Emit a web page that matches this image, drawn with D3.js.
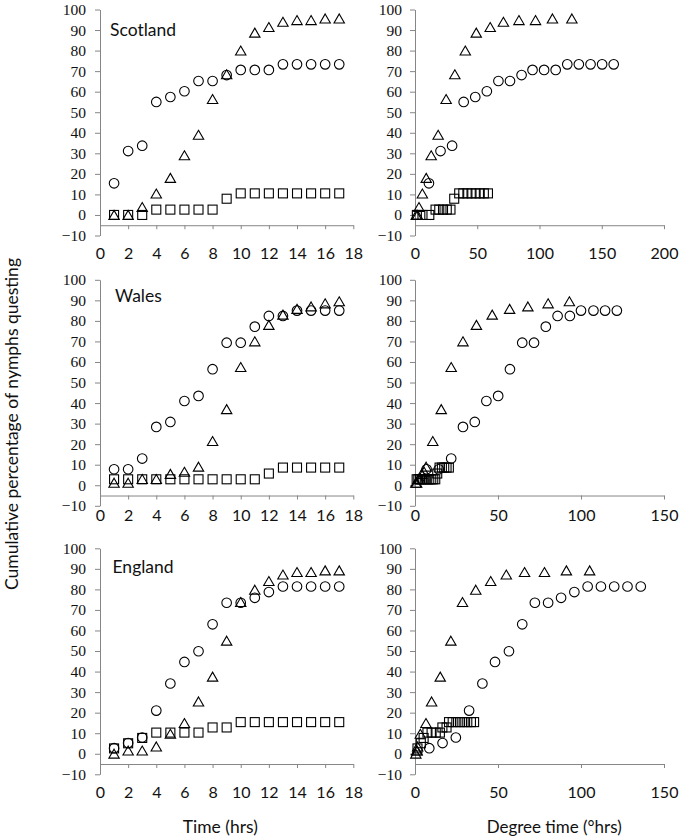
<!DOCTYPE html>
<html><head><meta charset="utf-8">
<script src="https://cdn.jsdelivr.net/npm/d3@7/dist/d3.min.js"></script>
<style>body{margin:0;background:#fff}svg{display:block}</style>
</head><body>
<script>
// ---------- DATA ----------
const hours = [1,2,3,4,5,6,7,8,9,10,11,12,13,14,15,16,17];
const regions = ["Scotland","Wales","England"];
const yTicks = [-10,0,10,20,30,40,50,60,70,80,90,100];
const timeTicks = [0,2,4,6,8,10,12,14,16,18];
const degTicksScotland = [0,50,100,150,200];
const degTicks = [0,50,100,150];

// Scotland (cumulative %)
const scotlandCircle   = [15.4,31.1,33.7,55,57.4,60.2,65.2,65.2,68.1,70.6,70.6,70.6,73.3,73.3,73.3,73.3,73.3];
const scotlandTriangle = [0,0,3.8,10.4,18,29,39,56.4,68.4,80,88.7,91.4,94,94.8,94.8,95.6,95.6];
const scotlandSquare   = [0,0,0,2.6,2.6,2.6,2.6,2.6,7.9,10.5,10.5,10.5,10.5,10.5,10.5,10.5,10.5];
// Scotland degree time (°hrs)
const scotlandCircleDT   = [11.2,20.5,29.8,39.1,48.4,57.7,67,76.3,85.6,94.4,103.7,113,122.3,131.6,141,150.3,159.6];
const scotlandTriangleDT = [1,2,3.2,5.9,9,13,18.6,25,32,40.4,49.2,60.4,71,83.5,96.8,110.4,126];
const scotlandSquareDT   = [1.5,6,11.5,16.5,19.5,22.5,25.5,28.5,31.5,35.5,38.8,42.1,45.4,48.7,52,55.3,58.6];

// Wales
const walesCircle   = [7.8,7.8,13,28.4,30.8,41,43.5,56.5,69.4,69.4,77.2,82.4,82.4,85,85,85,85];
const walesTriangle = [1.2,1.2,3,3,5.5,6.5,9,21.5,37,57.5,70,78,83,85.8,87,88.5,89.5];
const walesSquare   = [2.9,2.9,2.9,2.9,2.9,2.9,2.9,2.9,2.9,2.9,2.9,5.7,8.6,8.6,8.6,8.6,8.6];
const walesCircleDT   = [7,14.3,21.8,28.9,36,43,50.1,57.2,64.6,71.7,78.8,85.9,93.3,100,107.5,114.5,121.6];
const walesTriangleDT = [0.5,1,2,3,4,5.5,6.7,10.7,15.8,21.8,28.9,37,46.5,57,68,80.2,93];
const walesSquareDT   = [1,2,3,4,5,6.2,7.4,8.6,9.8,11,12.2,13.4,14.8,16.2,17.6,19,20.4];

// England
const englandCircle   = [2.7,5.2,7.9,21,34.2,44.7,49.9,63,73.5,73.5,75.9,78.7,81.4,81.4,81.4,81.4,81.4];
const englandTriangle = [0,1.5,1.5,3.5,9.7,14.9,25.4,37.5,55,73.8,79.8,84,87.2,88.4,88.4,89.2,89.2];
const englandSquare   = [2.6,5.1,7.7,10.3,10.3,10.3,10.3,12.8,12.8,15.4,15.4,15.4,15.4,15.4,15.4,15.4,15.4];
const englandCircleDT   = [8.6,16.6,24.6,32.6,40.6,48.2,56.6,64.6,72.2,80.2,88,96,104,112,120,128,136];
const englandTriangleDT = [0.5,1,1.3,1.6,3.2,6.6,10,15.2,21.6,28.6,36.6,45.6,55,66,78,91.2,105.2];
const englandSquareDT   = [1.5,3.5,5.2,7.5,10,12.5,15,16.5,19,20.5,22.7,24.9,27.1,29.3,31.5,33.7,35.6];

const yTitle = "Cumulative percentage of nymphs questing";
const xTitleTime = "Time (hrs)";
const xTitleDeg = "Degree time (°hrs)";

// ---------- LAYOUT ----------
const W = 680, H = 839;
const rowTops = [9.5, 279.8, 548.3];
const plotH = 226;
const colX = [[100, 353.3], [415, 664]];
const labelGap = [18, 10, 19];
const nameOffset = [{x:110,y:20},{x:115,y:16},{x:112.5,y:18.5}];
const axisColor = "#868686";
const sansFont = "Lato, 'Open Sans', sans-serif";

const svg = d3.select("body").append("svg").attr("width", W).attr("height", H);

const seriesSets = [
  {c:[scotlandCircle, scotlandCircleDT], t:[scotlandTriangle, scotlandTriangleDT], s:[scotlandSquare, scotlandSquareDT]},
  {c:[walesCircle, walesCircleDT], t:[walesTriangle, walesTriangleDT], s:[walesSquare, walesSquareDT]},
  {c:[englandCircle, englandCircleDT], t:[englandTriangle, englandTriangleDT], s:[englandSquare, englandSquareDT]}
];

const triPath = "M0,-4.6L5.2,4.4L-5.2,4.4Z";

function drawPanel(row, col) {
  const top = rowTops[row];
  const xt = col === 0 ? timeTicks : (row === 0 ? degTicksScotland : degTicks);
  const x = d3.scaleLinear().domain([xt[0], xt[xt.length-1]]).range(colX[col]);
  const y = d3.scaleLinear().domain([-10, 100]).range([top + plotH, top]);
  const g = svg.append("g");

  const ya = g.append("g").attr("transform", `translate(${colX[col][0]},0)`)
    .call(d3.axisLeft(y).tickValues(yTicks).tickSize(5).tickPadding(col===0?9:8).tickSizeOuter(0));
  ya.selectAll("text").attr("font-family", "'Liberation Serif', 'Times New Roman', serif")
    .attr("font-size", 15.5).attr("fill", "#111");

  const xa = g.append("g").attr("transform", `translate(0,${y(-5)})`)
    .call(d3.axisBottom(x).tickValues(xt).tickSize(4).tickPadding(labelGap[row]).tickSizeOuter(0));
  xa.selectAll("text").attr("font-family", sansFont)
    .attr("font-size", 16).attr("fill", "#111");

  g.selectAll(".domain, .tick line").attr("stroke", axisColor).attr("stroke-width", 1);

  const set = seriesSets[row];
  const xs = v => col === 0 ? hours : v;
  const mk = g.append("g").attr("fill", "none").attr("stroke", "#000").attr("stroke-width", 1.1);

  const sq = set.s[0].map((v,i) => [xs(set.s[1])[i], v]);
  mk.selectAll("rect").data(sq).join("rect")
    .attr("x", d => x(d[0]) - 4.5).attr("y", d => y(d[1]) - 4.5)
    .attr("width", 9).attr("height", 9);

  const tr = set.t[0].map((v,i) => [xs(set.t[1])[i], v]);
  mk.selectAll("path").data(tr).join("path")
    .attr("d", triPath)
    .attr("transform", d => `translate(${x(d[0])},${y(d[1])})`);

  const ci = set.c[0].map((v,i) => [xs(set.c[1])[i], v]);
  mk.selectAll("circle").data(ci).join("circle")
    .attr("cx", d => x(d[0])).attr("cy", d => y(d[1])).attr("r", 4.8);

  if (col === 0) {
    g.append("text").attr("x", nameOffset[row].x).attr("y", top + nameOffset[row].y)
      .attr("dy", "0.35em")
      .attr("font-family", sansFont).attr("font-size", 17.5)
      .attr("fill", "#111").text(regions[row]);
  }
}

for (let r = 0; r < 3; r++) for (let c = 0; c < 2; c++) drawPanel(r, c);

svg.append("text")
  .attr("transform", "translate(18,424) rotate(-90)")
  .attr("text-anchor", "middle")
  .attr("textLength", 332).attr("lengthAdjust", "spacingAndGlyphs")
  .attr("font-family", sansFont).attr("font-size", 17)
  .attr("fill", "#111").text(yTitle);

svg.append("text").attr("x", 220.3).attr("y", 833)
  .attr("text-anchor", "middle")
  .attr("textLength", 75).attr("lengthAdjust", "spacingAndGlyphs")
  .attr("font-family", sansFont).attr("font-size", 17.5)
  .attr("fill", "#111").text(xTitleTime);

svg.append("text").attr("x", 554.2).attr("y", 833)
  .attr("text-anchor", "middle")
  .attr("textLength", 135).attr("lengthAdjust", "spacingAndGlyphs")
  .attr("font-family", sansFont).attr("font-size", 17.5)
  .attr("fill", "#111").text(xTitleDeg);
</script>
</body></html>
